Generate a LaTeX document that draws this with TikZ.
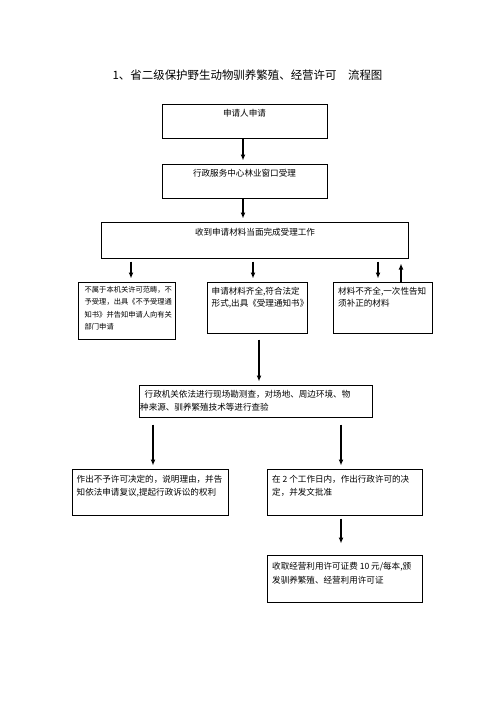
\documentclass[tikz,border=0pt]{standalone}
\usepackage{fontspec}
\newfontfamily\cjk{Noto Sans CJK SC}
\usetikzlibrary{arrows.meta}
\tikzset{
  box/.style={draw, line width=1bp, inner sep=0pt},
  txt/.style={font=\cjk\fontsize{8.6}{13.3}\selectfont, align=left, inner sep=0pt},
  arr/.style={line width=1.4bp, -{Latex[length=6bp,width=5bp]}, shorten >=3bp},
}
\begin{document}
\begin{tikzpicture}[x=1bp, y=-1bp]
  \useasboundingbox (0,0) rectangle (496,702);
  % 标题
  \node[font=\cjk\fontsize{11.5}{14}\selectfont, inner sep=0pt] (title) at (247.5,75) {1、省二级保护野生动物驯养繁殖、经营许可　流程图};
  % 申请
  \node[box, minimum width=165bp, minimum height=33bp] (b1) at (244.5,121.5) {};
  \node[txt, anchor=north] (t1) at ([yshift=-5bp]b1.north) {申请人申请};
  % 窗口受理
  \node[box, minimum width=165bp, minimum height=34bp] (b2) at (244.5,181) {};
  \node[txt, anchor=north] (t2) at ([yshift=-6bp]b2.north) {行政服务中心林业窗口受理};
  % 受理工作
  \node[box, minimum width=306bp, minimum height=36bp] (b3) at (255,240) {};
  \node[txt, anchor=north] (t3) at ([yshift=-6.5bp]b3.north) {收到申请材料当面完成受理工作};
  % 三种情况
  \node[box, minimum width=97bp, minimum height=57bp] (b4) at (126.5,310.5) {};
  \node[txt, font=\cjk\fontsize{7.3}{12.4}\selectfont, anchor=north west] (t4) at ([xshift=7bp,yshift=-4.5bp]b4.north west)
    {不属于本机关许可范畴，不\\予受理，出具《不予受理通\\知书》并告知申请人向有关\\部门申请};
  \node[box, minimum width=100bp, minimum height=51bp] (b5) at (257,307.5) {};
  \node[txt, font=\cjk\fontsize{8.6}{11.8}\selectfont, anchor=north west] (t5) at ([xshift=5bp,yshift=-5.5bp]b5.north west)
    {申请材料齐全,符合法定\\形式,出具《受理通知书》};
  \node[box, minimum width=99bp, minimum height=51bp] (b6) at (382.5,307.5) {};
  \node[txt, font=\cjk\fontsize{8.6}{11.8}\selectfont, anchor=north west] (t6) at ([xshift=5.5bp,yshift=-5.5bp]b6.north west)
    {材料不齐全,一次性告知\\须补正的材料};
  % 现场勘测
  \node[box, minimum width=233bp, minimum height=32bp] (b7) at (255.5,401) {};
  \node[txt, anchor=north west] (t7) at ([xshift=1.5bp,yshift=-5.5bp]b7.north west)
    {\hspace{4.5bp}行政机关依法进行现场勘测查，对场地、周边环境、物\\种来源、驯养繁殖技术等进行查验};
  % 决定
  \node[box, minimum width=156bp, minimum height=46bp] (b8) at (150,492) {};
  \node[txt, anchor=north west] (t8) at ([xshift=5bp,yshift=-6.5bp]b8.north west)
    {作出不予许可决定的，说明理由，并告\\知依法申请复议,提起行政诉讼的权利};
  \node[box, minimum width=155bp, minimum height=46bp] (b9) at (344.5,492) {};
  \node[txt, anchor=north west] (t9) at ([xshift=5.5bp,yshift=-6.5bp]b9.north west)
    {在 2 个工作日内，作出行政许可的决\\定，并发文批准};
  % 发证
  \node[box, minimum width=155bp, minimum height=47bp] (b10) at (344.5,578.5) {};
  \node[txt, anchor=north west] (t10) at ([xshift=5.5bp,yshift=-8bp]b10.north west)
    {收取经营利用许可证费 10 元/每本,颁\\发驯养繁殖、经营利用许可证};
  % 箭头
  \draw[arr] (b1.south -| 243,0) -- (b2.north -| 243,0);
  \draw[arr] (b2.south -| 243,0) -- (b3.north -| 243,0);
  \draw[arr, shorten <=3bp] (b3.south -| 131,0) -- (b4.north -| 131,0);
  \draw[arr, shorten <=3bp] (b3.south -| 253,0) -- (b5.north -| 253,0);
  \draw[arr, shorten <=3bp] (b3.south -| 378,0) -- (b6.north -| 378,0);
  \draw[arr, shorten >=5bp] (b6.north -| 401,0) -- (b3.south -| 401,0);
  \draw[arr, shorten <=6bp] (b5.south -| 259,0) -- (b7.north -| 259,0);
  \draw[arr, shorten <=7bp] (b7.south -| 153,0) -- (b8.north -| 153,0);
  \draw[arr, shorten <=7bp] (b7.south -| 341,0) -- (b9.north -| 341,0);
  \draw[arr, shorten <=3bp, shorten >=11bp] (b9.south -| 341,0) -- (b10.north -| 341,0);
\end{tikzpicture}
\end{document}
